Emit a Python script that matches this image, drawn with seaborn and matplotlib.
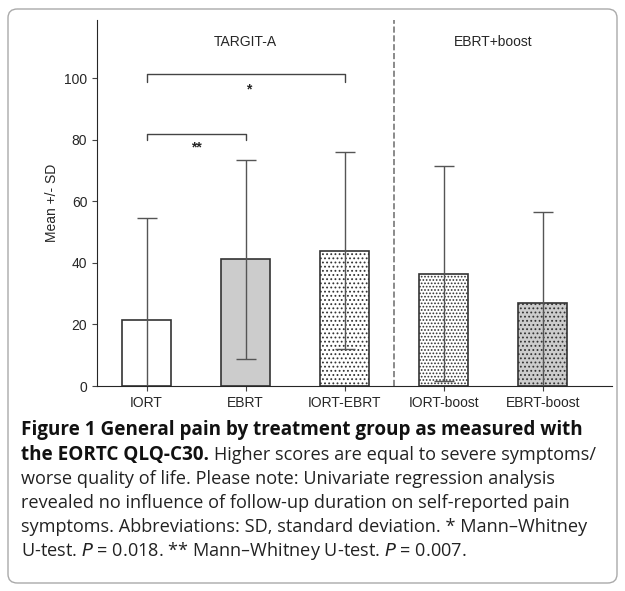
import matplotlib
matplotlib.use('Agg')
import matplotlib.pyplot as plt
import seaborn as sns
from matplotlib.patches import FancyBboxPatch

groups = ['IORT', 'EBRT', 'IORT-EBRT', 'IORT-boost', 'EBRT-boost']
means = [21.5, 41.2, 44.0, 36.5, 26.9]
sds = [33.0, 32.3, 32.1, 35.0, 29.7]
colors = ['white', '#cccccc', 'white', 'white', '#cccccc']
hatches = ['', '', '....', '.....', '....']

sns.set_style('ticks')
plt.rcParams['font.family'] = ['Liberation Sans', 'DejaVu Sans']
plt.rcParams['hatch.linewidth'] = 0.8

fig = plt.figure(figsize=(6.25, 5.91), dpi=100)
ax = fig.add_axes([97/625, 1 - 386/591, 515/625, 366/591])

sns.barplot(x=groups, y=means, palette=colors, hue=groups, legend=False,
            edgecolor='#333333', linewidth=1.2, width=0.5, ax=ax, zorder=2)
for bar, h in zip(ax.patches, hatches):
    bar.set_hatch(h)
ax.errorbar(range(len(groups)), means, yerr=sds, fmt='none', ecolor='#555555',
            elinewidth=1, capsize=7, capthick=1, zorder=3)

ax.set_xlim(-0.5, 4.7)
ax.set_ylim(0, 119)
ax.set_yticks([0, 20, 40, 60, 80, 100])
ax.set_ylabel('Mean +/- SD', fontsize=10)
ax.tick_params(labelsize=10, color='#444444')
sns.despine(ax=ax)
ax.axvline(2.5, color='#777777', ls='--', lw=1.2)

ax.text(1, 112, 'TARGIT-A', ha='center', va='center', fontsize=10)
ax.text(3.5, 112, 'EBRT+boost', ha='center', va='center', fontsize=10)
# significance brackets
ax.plot([0, 0, 1, 1], [80, 82, 82, 80], color='#444444', lw=1)
ax.text(0.5, 77.5, '**', ha='center', va='center', fontsize=10, fontweight='bold')
ax.plot([0, 0, 2, 2], [99, 101.3, 101.3, 99], color='#444444', lw=1)
ax.text(1.03, 96.5, '*', ha='center', va='center', fontsize=10, fontweight='bold')

# caption frame
box = FancyBboxPatch((8/625, 8/591), 609/625, 574/591, boxstyle='round,pad=0,rounding_size=0.015',
                     transform=fig.transFigure, fill=False, edgecolor='#aaaaaa', lw=1)
fig.patches.append(box)

cap = ['Open Sans', 'DejaVu Sans']
fs_b = 13.6
fs = 13.1
x0 = 21 / 625
fig.text(x0, 1 - 430/591, 'Figure 1 General pain by treatment group as measured with',
         fontsize=fs_b, fontweight='bold', va='center', color='#111111', family=cap)
t = fig.text(x0, 1 - 455/591, 'the EORTC QLQ-C30.', fontsize=fs_b, fontweight='bold',
             va='center', color='#111111', family=cap)
fig.canvas.draw()
bb = t.get_window_extent()
fig.text((bb.x1 + 5) / 625, 1 - 455/591, 'Higher scores are equal to severe symptoms/',
         fontsize=fs, va='center', color='#222222', family=cap)
lines = ['worse quality of life. Please note: Univariate regression analysis',
         'revealed no influence of follow-up duration on self-reported pain',
         'symptoms. Abbreviations: SD, standard deviation. * Mann\u2013Whitney',
         'U-test. $\\it{P}$ = 0.018. ** Mann\u2013Whitney U-test. $\\it{P}$ = 0.007.']
for i, ln in enumerate(lines):
    fig.text(x0, 1 - (479 + 24 * i)/591, ln, fontsize=fs, va='center', color='#222222', family=cap)

fig.savefig('out.png', dpi=100)
